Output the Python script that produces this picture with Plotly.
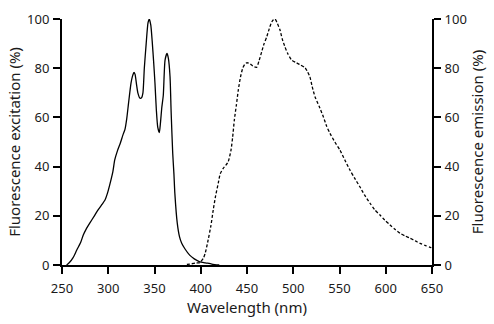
import plotly.graph_objects as go

exc_nm = [255, 258, 262, 266, 270, 273, 276, 280, 285, 289, 293, 296.5, 299, 302, 305, 307, 310, 313, 316, 318,
          320, 322, 324.6, 326, 327.8, 329, 330.7, 332, 334.3, 336, 337.5, 339, 341, 343, 344.4, 346, 347.5, 349,
          350.5, 352, 353.5, 355.2, 356.5, 357.8, 359.5, 361.4, 363.5, 365, 366.8, 368, 369.7, 371, 372, 374.6,
          377, 379.4, 383, 388, 393, 399, 405, 412, 420]
exc_val = [0, 1, 3, 6.1, 9, 12.2, 14.5, 17, 20, 22.4, 24.5, 26.4, 29, 33.2, 38, 42.7, 46.5, 49.5, 53, 55,
           59.5, 66, 73.9, 76.5, 78.3, 77.5, 73, 70, 67.8, 68, 70, 80, 90, 98.5, 100, 97.5, 91, 83,
           74, 63, 56, 53.8, 58, 63.7, 69, 83.3, 86, 84, 76.5, 62, 45.4, 37, 29.1, 17,
           11.5, 8.8, 6.5, 4, 2.5, 1.3, 0.9, 0.4, 0]

em_nm = [385, 390, 395, 399, 402.8, 405, 408, 411, 413.5, 416, 418.9, 421, 424.3, 427, 429.7, 432.7, 434.5, 436.3,
         438.5, 440.6, 443, 445.4, 447.5, 449.7, 452, 455, 458, 460.5, 463, 465.9, 468.5, 471.4, 474, 476, 478,
         480.3, 482.5, 485.7, 488, 491, 494, 498.3, 503, 507, 512.7, 515.5, 518, 520.5, 523.5, 528, 532.5, 536,
         539.7, 545, 550.5, 556, 561.3, 566, 572, 577, 583, 588, 593.8, 599, 604.6, 610, 615.5, 621, 626.3, 632,
         637, 643, 648, 650]
em_val = [0.2, 0.5, 0.8, 1.0, 2.7, 5, 10.2, 16, 22.4, 28, 33.2, 37, 39.3, 40.5, 42, 46.7, 52, 58.9,
          65, 71.1, 76.5, 80, 81.5, 82.2, 82, 81.3, 80.5, 80.4, 83, 86.7, 90, 92.8, 96, 98.2, 99.5,
          100, 98.5, 95.5, 92, 88.7, 86, 83.3, 82.3, 81.5, 80.2, 78.5, 76.5, 72.5, 68.4, 64.5, 60.3, 56.5,
          53.5, 50, 46.7, 42.5, 38.6, 35.5, 31.8, 28.5, 25.1, 22.5, 20.3, 18.2, 16.3, 14.5, 12.9, 11.8, 10.9, 9.8,
          8.8, 7.9, 7.2, 6.9]

x_ticks = [250, 300, 350, 400, 450, 500, 550, 600, 650]
y_ticks = [0, 20, 40, 60, 80, 100]

FONT = "Noto Sans"
TXT = "#1a1a1a"
fig = go.Figure()
fig.add_trace(go.Scatter(x=exc_nm, y=exc_val, mode="lines", line=dict(color="black", width=1.3, shape="spline", smoothing=0.6),
                         name="Excitation", yaxis="y"))
fig.add_trace(go.Scatter(x=em_nm, y=em_val, mode="lines", line=dict(color="black", width=1.3, dash="3px,2px", shape="spline", smoothing=0.6),
                         name="Emission", yaxis="y2"))

axis_common = dict(showline=True, linecolor="black", linewidth=2, ticks="outside", ticklen=7, tickwidth=2,
                   tickcolor="black", showgrid=False, zeroline=False, automargin=False,
                   tickfont=dict(family=FONT, size=13, color=TXT))

fig.update_layout(
    width=494, height=324,
    margin=dict(l=62, r=62, t=19, b=59),
    paper_bgcolor="white", plot_bgcolor="white",
    showlegend=False,
    xaxis=dict(range=[250, 650], tickvals=x_ticks, ticklabelstandoff=3,
               title=dict(text="Wavelength (nm)", font=dict(family=FONT, size=15, color=TXT), standoff=3),
               **axis_common),
    yaxis=dict(range=[0, 100], tickvals=y_ticks, ticklabelstandoff=1,
               title=dict(text="Fluorescence excitation (%)", font=dict(family=FONT, size=15, color=TXT), standoff=3),
               **axis_common),
    yaxis2=dict(range=[0, 100], tickvals=y_ticks, overlaying="y", side="right", anchor="x", ticklabelstandoff=1,
                title=dict(text="Fluorescence emission (%)", font=dict(family=FONT, size=15, color=TXT), standoff=7),
                **axis_common),
)
fig.write_html("out.html")
